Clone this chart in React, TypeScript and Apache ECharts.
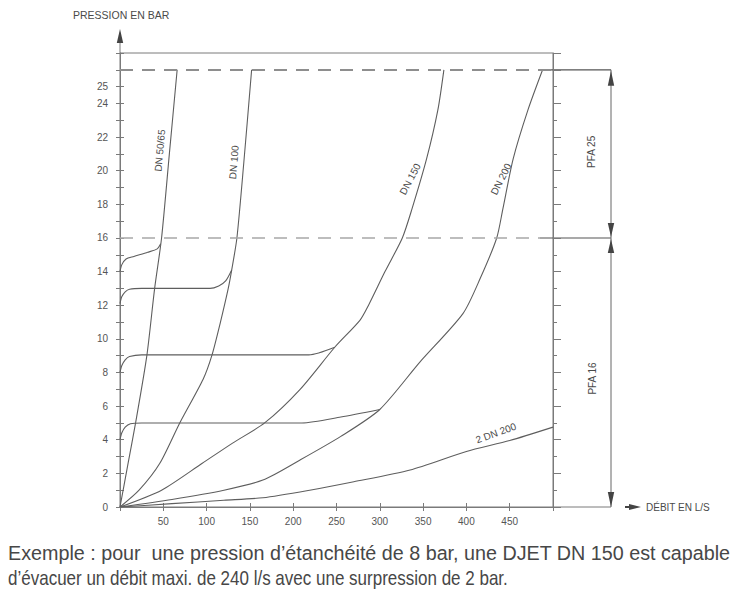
import React, { useEffect, useRef } from "react";
import * as echarts from "echarts";

// ---- data ----
const dn5065X = [0, 9, 18, 31, 40, 48, 57, 66];
const dn5065Y = [0, 2.5, 5, 9, 13, 16, 21, 26];

const dn100X = [0, 22, 46, 69, 96, 106, 116, 125, 129, 135, 143, 152];
const dn100Y = [0, 1.0, 2.6, 5, 7.6, 9, 11, 13, 14.1, 16, 20.5, 26];

const dn150X = [0, 48, 95, 130, 167, 208, 248, 277, 287, 306, 326, 337, 354, 367, 374];
const dn150Y = [0, 1.0, 2.6, 3.8, 5, 7, 9.5, 11.1, 12, 14, 16, 17.7, 20.7, 23.6, 26];

const dn200X = [0, 60, 120, 165, 208, 255, 300, 346, 396, 416, 435, 442, 454, 471, 488];
const dn200Y = [0, 0.45, 1.0, 1.6, 2.8, 4.2, 5.8, 8.6, 11.5, 13.6, 16, 17.7, 20.7, 23.6, 26];

const dn200x2X = [0, 60, 120, 165, 219, 270, 335, 400, 450, 500];
const dn200x2Y = [0, 0.2, 0.4, 0.55, 1.0, 1.5, 2.2, 3.3, 3.95, 4.75];

const seal14X = [0, 2, 7, 16, 32, 43, 47];
const seal14Y = [14.0, 14.4, 14.75, 14.9, 15.15, 15.35, 15.65];

const seal12X = [0, 2, 6, 11, 25, 104, 114, 122, 129];
const seal12Y = [12.1, 12.5, 12.8, 12.95, 13.0, 13.0, 13.15, 13.45, 14.1];

const seal8X = [0, 2, 6, 11, 25, 218, 248];
const seal8Y = [8.0, 8.4, 8.75, 8.95, 9.05, 9.05, 9.5];

const seal4X = [0, 2, 6, 12, 25, 210, 255, 300];
const seal4Y = [4.0, 4.4, 4.75, 4.95, 5.0, 5.0, 5.35, 5.8];

const pfaLevels = [16, 26];

const yLabelValues = [0, 2, 4, 6, 8, 10, 12, 14, 16, 18, 20, 22, 24, 25];
const xLabelValues = [50, 100, 150, 200, 250, 300, 350, 400, 450];

const curveLabels = ["DN 50/65", "DN 100", "DN 150", "DN 200", "2 DN 200"];

const captionLines = [
  "Exemple : pour  une pression d’étanchéité de 8 bar, une DJET DN 150 est capable",
  "d’évacuer un débit maxi. de 240 l/s avec une surpression de 2 bar.",
];

const zip = (xs: number[], ys: number[]) => xs.map((x, i) => [x, ys[i]]);

export default function App() {
  const ref = useRef<HTMLDivElement | null>(null);

  useEffect(() => {
    const chart = echarts.init(ref.current!, null, { renderer: "svg" });
    const lineColor = "#5e5e5e";
    const axisColor = "#7a7a7a";
    const textColor = "#4a4a4a";
    const sans = '"Liberation Sans", Arial, sans-serif';

    const curve = (name: string, xs: number[], ys: number[]) => ({
      name,
      type: "line",
      data: zip(xs, ys),
      symbol: "none",
      smooth: 0.25,
      silent: true,
      z: 3,
      lineStyle: { color: lineColor, width: 1.1 },
    });

    const yBase = {
      type: "value",
      min: 0,
      max: 27,
      interval: 1,
      splitLine: { show: false },
    };
    const xBase = {
      type: "value",
      min: 0,
      max: 500,
      interval: 50,
      splitLine: { show: false },
    };

    chart.setOption({
      animation: false,
      grid: {
        left: 120,
        right: 189,
        top: 53,
        bottom: 96,
        show: true,
        borderColor: axisColor,
        borderWidth: 1,
      },
      xAxis: [
        {
          ...xBase,
          position: "bottom",
          axisLine: { show: true, lineStyle: { color: axisColor } },
          axisTick: { show: true, length: 4, lineStyle: { color: axisColor } },
          axisLabel: {
            color: "#555",
            fontSize: 10,
            fontFamily: sans,
            margin: 9,
            formatter: (v: number) => (xLabelValues.includes(v) ? String(v) : ""),
          },
        },
        {
          ...xBase,
          position: "bottom",
          axisLine: { show: false },
          axisTick: { show: true, inside: true, length: 4, lineStyle: { color: axisColor } },
          axisLabel: { show: false },
        },
      ],
      yAxis: [
        {
          ...yBase,
          position: "left",
          axisLine: { show: true, lineStyle: { color: axisColor } },
          axisTick: { show: true, length: 4, lineStyle: { color: axisColor } },
          axisLabel: {
            color: "#555",
            fontSize: 10,
            fontFamily: sans,
            margin: 12,
            formatter: (v: number) => (yLabelValues.includes(v) ? String(v) : ""),
          },
        },
        {
          ...yBase,
          position: "left",
          axisLine: { show: false },
          axisTick: { show: true, inside: true, length: 4, lineStyle: { color: axisColor } },
          axisLabel: { show: false },
        },
        {
          ...yBase,
          interval: 2,
          position: "right",
          axisLine: { show: true, lineStyle: { color: axisColor } },
          axisTick: { show: true, length: 8, lineStyle: { color: axisColor } },
          minorTick: { show: true, splitNumber: 2, length: 4, lineStyle: { color: axisColor } },
          axisLabel: { show: false },
        },
      ],
      series: [
        {
          ...curve(curveLabels[0], dn5065X, dn5065Y),
          markLine: {
            silent: true,
            symbol: "none",
            label: { show: false },
            data: [
              { yAxis: pfaLevels[0], lineStyle: { color: "#a8a8a8", width: 1.5, type: [13, 9] } },
              { yAxis: pfaLevels[1], lineStyle: { color: "#8e8e8e", width: 1.8, type: [13, 9] } },
            ],
          },
        },
        curve(curveLabels[1], dn100X, dn100Y),
        curve(curveLabels[2], dn150X, dn150Y),
        curve(curveLabels[3], dn200X, dn200Y),
        curve(curveLabels[4], dn200x2X, dn200x2Y),
        curve("seal14", seal14X, seal14Y),
        curve("seal12", seal12X, seal12Y),
        curve("seal8", seal8X, seal8Y),
        curve("seal4", seal4X, seal4Y),
      ],
    });

    const P = (x: number, y: number) =>
      chart.convertToPixel({ xAxisIndex: 0, yAxisIndex: 0 }, [x, y]) as number[];

    const origin = P(0, 0);
    const topLeft = P(0, 27);
    const rightBottom = P(500, 0);
    const yTop = P(0, pfaLevels[1])[1];
    const y16 = P(0, pfaLevels[0])[1];
    const vx = rightBottom[0] + 58; // PFA dimension line
    const dark = "#444";

    const tri = (pts: number[][]) => ({
      type: "polygon",
      shape: { points: pts },
      style: { fill: dark },
      silent: true,
    });
    const seg = (x1: number, y1: number, x2: number, y2: number, w = 1, c = "#666") => ({
      type: "line",
      shape: { x1, y1, x2, y2 },
      style: { stroke: c, lineWidth: w },
      silent: true,
    });
    const rtext = (text: string, pos: number[], deg: number, size = 10) => ({
      type: "text",
      x: pos[0],
      y: pos[1],
      rotation: (deg * Math.PI) / 180,
      style: {
        text,
        fill: textColor,
        fontSize: size,
        fontFamily: sans,
        align: "center",
        verticalAlign: "middle",
      },
      silent: true,
    });
    const caption = (text: string, y: number, sx: number) => ({
      type: "text",
      x: 8,
      y,
      scaleX: sx,
      scaleY: 1,
      style: {
        text,
        fill: "#474747",
        fontSize: 21,
        fontFamily: sans,
        verticalAlign: "middle",
      },
      silent: true,
    });

    const graphic: any[] = [
      // y axis arrow
      seg(origin[0], topLeft[1], origin[0], topLeft[1] - 12, 1, axisColor),
      tri([
        [origin[0], topLeft[1] - 24],
        [origin[0] - 3.2, topLeft[1] - 10],
        [origin[0] + 3.2, topLeft[1] - 10],
      ]),
      {
        type: "text",
        x: 73,
        y: topLeft[1] - 38,
        style: { text: "PRESSION EN BAR", fill: textColor, fontSize: 10.5, fontFamily: sans, verticalAlign: "middle" },
        silent: true,
      },
      // x axis extension and arrow
      seg(rightBottom[0], origin[1], vx, origin[1], 1, axisColor),
      seg(vx + 14, origin[1], vx + 20, origin[1], 2, dark),
      tri([
        [vx + 30, origin[1]],
        [vx + 18, origin[1] - 3],
        [vx + 18, origin[1] + 3],
      ]),
      {
        type: "text",
        x: vx + 35,
        y: origin[1],
        style: { text: "DÉBIT EN L/S", fill: textColor, fontSize: 10, fontFamily: sans, verticalAlign: "middle" },
        silent: true,
      },
      // PFA dimension lines
      seg(rightBottom[0] - 13, yTop, vx, yTop, 1.3, "#555"),
      seg(rightBottom[0] - 13, y16, vx, y16, 1.1, "#555"),
      seg(vx, yTop, vx, origin[1], 1, "#666"),
      tri([[vx, yTop + 1], [vx - 3.2, yTop + 16], [vx + 3.2, yTop + 16]]),
      tri([[vx, y16 - 1], [vx - 3.2, y16 - 15], [vx + 3.2, y16 - 15]]),
      tri([[vx, y16 + 1], [vx - 3.2, y16 + 15], [vx + 3.2, y16 + 15]]),
      tri([[vx, origin[1]], [vx - 3.2, origin[1] - 15], [vx + 3.2, origin[1] - 15]]),
      rtext("PFA 25", [vx - 20, (yTop + y16) / 2 - 2], 90),
      rtext("PFA 16", [vx - 19, (y16 + origin[1]) / 2 + 6], 90),
      // curve labels
      rtext(curveLabels[0], P(46, 21.2), 85),
      rtext(curveLabels[1], P(131.5, 20.5), 85),
      rtext(curveLabels[2], P(335, 19.5), 62),
      rtext(curveLabels[3], P(440, 19.5), 63),
      rtext(curveLabels[4], P(434, 4.4), 20),
      // caption (justified first line)
      caption(captionLines[0], 553, 0.94),
      caption(captionLines[1], 578, 0.81),
    ];

    chart.setOption({ graphic });

    return () => chart.dispose();
  }, []);

  return (
    <div
      ref={ref}
      style={{ position: "absolute", left: 0, top: 0, width: 742, height: 603, background: "#fff" }}
    />
  );
}
